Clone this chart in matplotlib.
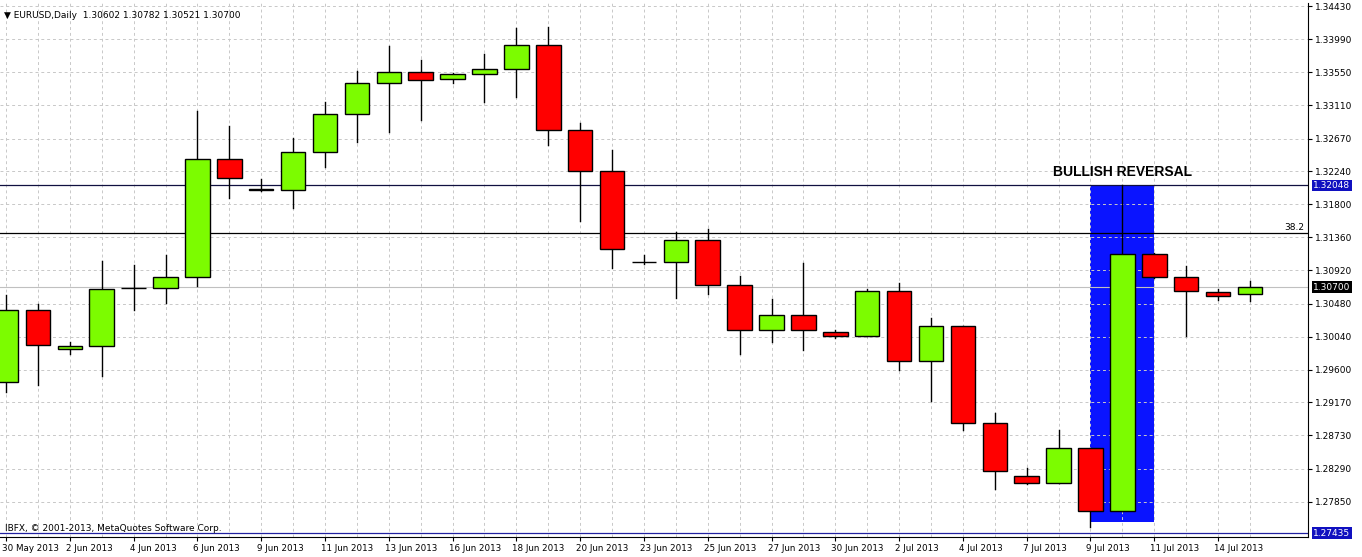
import matplotlib
matplotlib.use("Agg")
import matplotlib.pyplot as plt
from matplotlib.patches import Rectangle
import matplotlib.transforms as mt

dates = ["30 May","31 May","2 Jun","3 Jun","4 Jun","5 Jun","6 Jun","7 Jun","9 Jun","10 Jun",
         "11 Jun","12 Jun","13 Jun","14 Jun","16 Jun","17 Jun","18 Jun","19 Jun","20 Jun","21 Jun",
         "23 Jun","24 Jun","25 Jun","26 Jun","27 Jun","28 Jun","30 Jun","1 Jul","2 Jul","3 Jul",
         "4 Jul","5 Jul","7 Jul","8 Jul","9 Jul","10 Jul","11 Jul","12 Jul","14 Jul","15 Jul"]
opens  = [1.29434,1.30389,1.29878,1.29916,1.30682,1.30682,1.30833,1.32393,1.31996,1.31991,
          1.32497,1.32997,1.33414,1.33560,1.33456,1.33523,1.33589,1.33910,1.32790,1.32242,
          1.31027,1.31027,1.31325,1.30729,1.30129,1.30327,1.30101,1.30049,1.30649,1.29718,
          1.30186,1.28891,1.28191,1.28097,1.28564,1.27733,1.31136,1.30833,1.30635,1.30602]
highs  = [1.30592,1.30469,1.29970,1.31051,1.30989,1.31131,1.33036,1.32837,1.32128,1.32681,
          1.33154,1.33565,1.33896,1.33712,1.33540,1.33792,1.34137,1.34146,1.32879,1.32516,
          1.31122,1.31429,1.31476,1.30852,1.30545,1.31013,1.30129,1.30673,1.30758,1.30294,
          1.30186,1.29032,1.28295,1.28796,1.28564,1.32048,1.31150,1.30980,1.30673,1.30782]
lows   = [1.29302,1.29406,1.29812,1.29524,1.30389,1.30493,1.30720,1.31878,1.31972,1.31750,
          1.32289,1.32625,1.32762,1.32918,1.33414,1.33154,1.33220,1.32587,1.31571,1.30947,
          1.31005,1.30554,1.30611,1.29812,1.29964,1.29869,1.30020,1.30049,1.29595,1.29193,
          1.28796,1.28016,1.28088,1.28093,1.27515,1.27733,1.30820,1.30044,1.30531,1.30521]
closes = [1.30389,1.29930,1.29916,1.30673,1.30690,1.30833,1.32393,1.32152,1.31991,1.32497,
          1.32997,1.33414,1.33560,1.33442,1.33523,1.33589,1.33910,1.32790,1.32242,1.31207,
          1.31035,1.31325,1.30729,1.30129,1.30327,1.30129,1.30049,1.30649,1.29718,1.30186,
          1.28891,1.28262,1.28097,1.28564,1.27733,1.31136,1.30833,1.30644,1.30583,1.30700]
tick_labels = ["30 May 2013","2 Jun 2013","4 Jun 2013","6 Jun 2013","9 Jun 2013","11 Jun 2013",
               "13 Jun 2013","16 Jun 2013","18 Jun 2013","20 Jun 2013","23 Jun 2013","25 Jun 2013",
               "27 Jun 2013","30 Jun 2013","2 Jul 2013","4 Jul 2013","7 Jul 2013","9 Jul 2013",
               "11 Jul 2013","14 Jul 2013"]
price_ticks = [1.34430,1.33990,1.33550,1.33110,1.32670,1.32240,1.31800,1.31360,
               1.30920,1.30480,1.30040,1.29600,1.29170,1.28730,1.28290,1.27850]
level_high = 1.32048
level_low = 1.27435
fib_level = 1.31419
last_price = 1.30700

W, H = 1362, 557
fig = plt.figure(figsize=(W/100, H/100), dpi=100)
fig.patch.set_facecolor("white")
ax = fig.add_axes([0, (H-537)/H, 1308/W, 534/H])
ax.set_xlim(-0.19, 40.82)
ax.set_ylim(1.27382, 1.34470)

for i in range(len(dates)):
    ax.axvline(i, color="#c8c8c8", ls=(0, (3, 3)), lw=0.7, zorder=1)
for p in price_ticks:
    ax.axhline(p, color="#c8c8c8", ls=(0, (3, 3)), lw=0.7, zorder=1)

ax.add_patch(Rectangle((34, 1.27586), 2, level_high - 1.27586, facecolor="#0a14ff",
                       edgecolor="none", zorder=0.5))

ax.axhline(level_high, color="#101040", lw=0.9, zorder=2)
ax.axhline(fib_level, color="black", lw=0.9, zorder=2)
ax.axhline(last_price, color="#c0c0c0", lw=0.8, zorder=1.5)
ax.axhline(level_low, color="#2020a0", lw=0.9, zorder=2)

bw = 0.77
for i, (o, h, l, c) in enumerate(zip(opens, highs, lows, closes)):
    ax.plot([i, i], [l, h], color="black", lw=1, zorder=3)
    col = "#7cfc00" if c >= o else "#ff0000"
    lo, hi = min(o, c), max(o, c)
    if hi - lo < 0.00004:
        ax.plot([i - bw/2, i + bw/2], [o, o], color="black", lw=1.5, zorder=4)
    else:
        ax.add_patch(Rectangle((i - bw/2, lo), bw, hi - lo, facecolor=col,
                               edgecolor="black", lw=1, zorder=4))

ax.text(35, 1.32227, "BULLISH REVERSAL", ha="center", va="center", fontsize=10,
        fontweight="bold", family="Liberation Sans", zorder=5)
ax.text(40.7, fib_level + 0.0001, "38.2", ha="right", va="bottom", fontsize=6.5, zorder=5)
ax.text(0.003, 0.985, "\u25bc EURUSD,Daily  1.30602 1.30782 1.30521 1.30700",
        transform=ax.transAxes, fontsize=6.5, va="top", ha="left")
ax.text(0.004, 0.008, "IBFX, \u00a9 2001-2013, MetaQuotes Software Corp.",
        transform=ax.transAxes, fontsize=6.5, va="bottom", ha="left")

for s in ["top", "left"]:
    ax.spines[s].set_visible(False)
ax.yaxis.tick_right()
ax.set_yticks(price_ticks)
ax.set_yticklabels([f"{p:.5f}" for p in price_ticks], fontsize=6.5)
ax.tick_params(axis="y", length=3, pad=2)
xt = list(range(0, 40, 2))
ax.set_xticks(xt)
ax.set_xticklabels(tick_labels, fontsize=6.3, ha="left")
ax.tick_params(axis="x", length=3, pad=2)
offset = mt.ScaledTranslation(-4/100, 0, fig.dpi_scale_trans)
for lbl in ax.get_xticklabels():
    lbl.set_transform(lbl.get_transform() + offset)

for p, bg in [(level_high, "#1010c0"), (last_price, "black"), (level_low, "#1010c0")]:
    ax.text(1.004, p, f"{p:.5f}", transform=ax.get_yaxis_transform(), fontsize=6.5,
            color="white", va="center", ha="left",
            bbox=dict(boxstyle="square,pad=0.15", fc=bg, ec="none"), zorder=6, clip_on=False)

fig.savefig("out.png", dpi=100)
